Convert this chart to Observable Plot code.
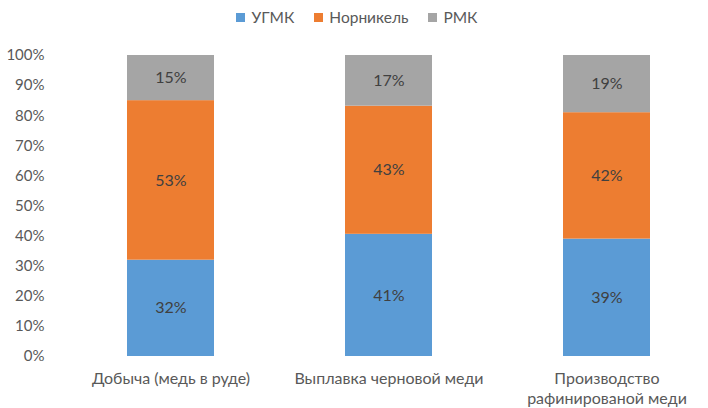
<!DOCTYPE html>
<html><head><meta charset="utf-8">
<script src="https://cdn.jsdelivr.net/npm/d3@7"></script>
<script src="https://cdn.jsdelivr.net/npm/@observablehq/plot@0.6"></script>
<style>
body{margin:0;background:#fff;font-family:Lato,"Open Sans",sans-serif;}
#legend{height:34px;display:flex;justify-content:center;align-items:center;gap:20px;font-size:15.5px;color:#595959;padding-left:6px;box-sizing:border-box;}
#legend span{display:inline-flex;align-items:center;}
#legend i{display:inline-block;width:9px;height:9px;margin-right:6px;}
</style></head>
<body>
<div id="legend"></div>
<div id="chart"></div>
<script>
const categories = ["Добыча (медь в руде)", "Выплавка черновой меди", "Производство\nрафинированой меди"];
const series = ["УГМК", "Норникель", "РМК"];
const colors = ["#5B9BD5", "#ED7D31", "#A5A5A5"];
const ugmk = [32, 41, 39];
const nornickel = [53, 43, 42];
const rmk = [15, 17, 19];
const yTicks = [0,0.1,0.2,0.3,0.4,0.5,0.6,0.7,0.8,0.9,1];

const valuesBySeries = [ugmk, nornickel, rmk];
const data = [];
series.forEach((s, si) => categories.forEach((c, ci) => data.push({category: c, series: s, value: valuesBySeries[si][ci]})));

const leg = document.getElementById("legend");
series.forEach((s, i) => {
  const sp = document.createElement("span");
  sp.innerHTML = `<i style="background:${colors[i]}"></i>${s}`;
  leg.appendChild(sp);
});

const chart = Plot.plot({
  width: 708, height: 374,
  marginTop: 21, marginBottom: 52, marginLeft: 62, marginRight: 0,
  style: {fontFamily: "Lato, 'Open Sans', sans-serif", fontSize: "14px", color: "#595959", background: "#fff"},
  x: {domain: categories, range: [61.5, 715.5], paddingInner: 0.6, paddingOuter: 0.3, label: null},
  y: {domain: [0, 1], label: null},
  color: {domain: series, range: colors},
  marks: [
    Plot.ruleY(yTicks, {stroke: "#d9d9d9", strokeWidth: 1, x1: 62, x2: 705}),
    Plot.axisY({ticks: yTicks, tickFormat: d3.format(".0%"), tickSize: 0, tickPadding: 18, fontSize: 15, fill: "#595959"}),
    Plot.axisX({tickSize: 0, tickPadding: 13, fontSize: 16, fill: "#595959", lineHeight: 1.25}),
    Plot.barY(data, Plot.stackY({x: "category", y: "value", fill: "series", offset: "normalize"})),
    Plot.text(data, Plot.stackY({x: "category", y: "value", z: "series", offset: "normalize", text: d => d.value + "%", fill: "#404040", fontSize: 16}))
  ]
});
document.getElementById("chart").appendChild(chart);
</script>
</body></html>
